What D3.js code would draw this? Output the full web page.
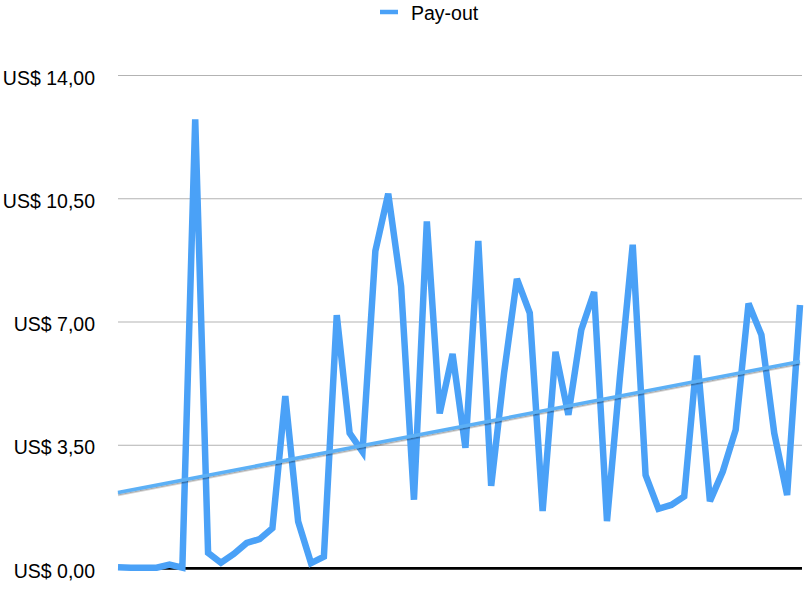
<!DOCTYPE html>
<html>
<head>
<meta charset="utf-8">
<script src="https://cdn.jsdelivr.net/npm/d3@7"></script>
<style>
  html, body { margin: 0; padding: 0; background: #fff; }
  svg { display: block; font-family: "Liberation Sans", Arial, Helvetica, sans-serif; }
</style>
</head>
<body>
<svg id="chart" width="806" height="600"></svg>
<script>
// ---- data ----
const seriesName = "Pay-out";
const payout = [
  0.02, 0.01, 0.01, 0.01, 0.10, 0.01, 12.74, 0.43, 0.15, 0.40,
  0.71, 0.82, 1.13, 4.88, 1.32, 0.14, 0.32, 7.18, 3.83, 3.30,
  9.00, 10.63, 8.00, 1.94, 9.84, 4.39, 6.08, 3.41, 9.29, 2.33,
  5.53, 8.21, 7.24, 1.62, 6.14, 4.35, 6.76, 7.84, 1.33, 5.40,
  9.18, 2.64, 1.68, 1.79, 2.03, 6.03, 1.90, 2.74, 3.92, 7.51,
  6.62, 3.83, 2.07, 7.47
];
const yTickValues = [0, 3.5, 7, 10.5, 14];
const yTickLabels = ["US$ 0,00", "US$ 3,50", "US$ 7,00", "US$ 10,50", "US$ 14,00"];

// ---- layout ----
const svg = d3.select("#chart");
const plotLeft = 118, plotRight = 802, plotTop = 75, plotBottom = 568;
const lastX = 800;

const x = d3.scaleLinear().domain([0, payout.length - 1]).range([plotLeft, lastX]);
const y = d3.scaleLinear().domain([0, 14]).range([plotBottom, plotTop]);

// gridlines + labels
const yAxis = d3.axisLeft(y)
  .tickValues(yTickValues)
  .tickFormat((d, i) => yTickLabels[i])
  .tickSize(-(plotRight - plotLeft))
  .tickPadding(23);

const gy = svg.append("g").attr("transform", `translate(${plotLeft},0)`).call(yAxis);
gy.select(".domain").remove();
gy.selectAll(".tick line").attr("stroke", "#b3b3b3").attr("stroke-width", 1)
  .filter(d => d === 0).remove();
gy.selectAll(".tick text")
  .attr("fill", "#000")
  .attr("font-size", "19.5px")
  .attr("font-family", "'Liberation Sans', Arial, sans-serif")
  .attr("dy", "0.47em");

// baseline axis
svg.append("line")
  .attr("x1", plotLeft).attr("x2", plotRight)
  .attr("y1", y(0) + 0.3).attr("y2", y(0) + 0.3)
  .attr("stroke", "#000").attr("stroke-width", 2.7);

// main line
const line = d3.line().x((d, i) => x(i)).y(d => y(d));
svg.append("path")
  .datum(payout)
  .attr("fill", "none")
  .attr("stroke", "#4aa1f7")
  .attr("stroke-width", 6.5)
  .attr("stroke-linejoin", "miter")
  .attr("d", line);

// linear trend line (least squares)
const n = payout.length;
const mx = d3.mean(payout, (d, i) => i);
const my = d3.mean(payout);
let sxy = 0, sxx = 0;
payout.forEach((d, i) => { sxy += (i - mx) * (d - my); sxx += (i - mx) * (i - mx); });
const slope = sxy / sxx;
const intercept = my - slope * mx;
const trend = [0, n - 1].map(i => ({ i, v: intercept + slope * i }));

const defs = svg.append("defs");
const f = defs.append("filter").attr("id", "shadow")
  .attr("x", "-5%").attr("y", "-50%").attr("width", "110%").attr("height", "200%");
f.append("feDropShadow").attr("dx", 0).attr("dy", 1.5).attr("stdDeviation", 0.7)
  .attr("flood-color", "#000").attr("flood-opacity", 0.35);

svg.append("path")
  .datum(trend)
  .attr("fill", "none")
  .attr("stroke", "#5cb0f6")
  .attr("stroke-width", 3.5)
  .attr("filter", "url(#shadow)")
  .attr("d", d3.line().x(d => x(d.i)).y(d => y(d.v)));

// legend
const legend = svg.append("g");
legend.append("line")
  .attr("x1", 380).attr("x2", 398).attr("y1", 12).attr("y2", 12)
  .attr("stroke", "#4aa1f7").attr("stroke-width", 4.5);
legend.append("text")
  .attr("x", 411).attr("y", 20)
  .attr("font-size", "19.5px")
  .attr("fill", "#000")
  .text(seriesName);
</script>
</body>
</html>
